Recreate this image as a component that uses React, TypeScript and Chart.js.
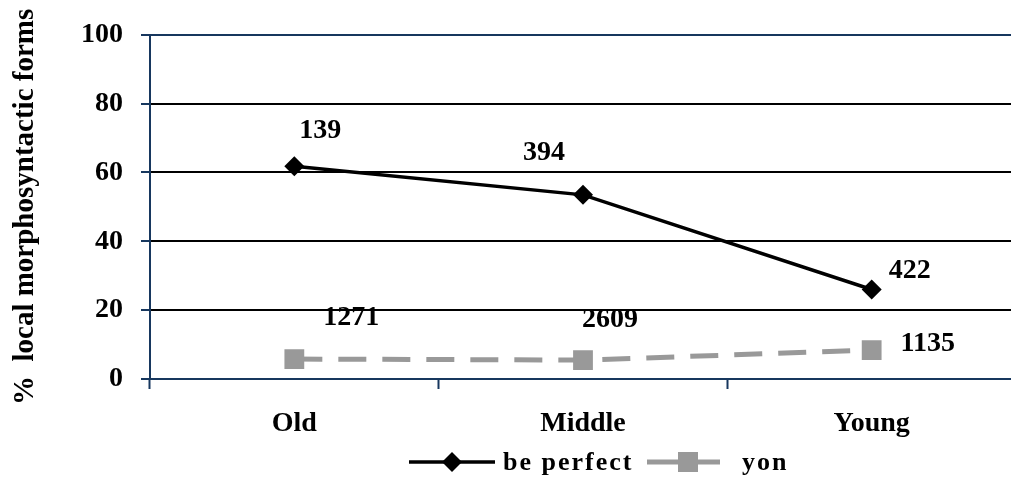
import React, { useEffect, useRef } from 'react';
import { Chart, registerables } from 'chart.js';

Chart.register(...registerables);

const categories = ['Old', 'Middle', 'Young'];
const bePerfectValues = [61.8, 53.5, 26.0];
const yonValues = [5.8, 5.5, 8.4];
const bePerfectCounts = ['139', '394', '422'];
const yonCounts = ['1271', '2609', '1135'];
const yTicks = [0, 20, 40, 60, 80, 100];
const seriesNames = ['be perfect', 'yon'];
const yTitle = '%  local morphosyntactic forms';

const NAVY = '#17375E';
const GRAY = '#999999';
const FONT = "'Liberation Serif', 'Times New Roman', serif";

const countLabels = {
  id: 'countLabels',
  afterDatasetsDraw(chart: any, _args: any, opts: any) {
    const ctx = chart.ctx;
    ctx.save();
    ctx.font = `bold 28px ${FONT}`;
    ctx.fillStyle = '#000';
    ctx.textAlign = 'center';
    ctx.textBaseline = 'middle';
    (opts.sets || []).forEach((set: any, di: number) => {
      const meta = chart.getDatasetMeta(di);
      meta.data.forEach((pt: any, i: number) => {
        const off = set.offsets[i];
        ctx.fillText(set.labels[i], pt.x + off[0], pt.y + off[1]);
      });
    });
    ctx.restore();
  },
};

const customLegend = {
  id: 'customLegend',
  afterDraw(chart: any, _args: any, opts: any) {
    const ctx = chart.ctx;
    const y = opts.y;
    const ds = chart.data.datasets;
    ctx.save();
    ctx.strokeStyle = ds[0].borderColor;
    ctx.lineWidth = ds[0].borderWidth;
    ctx.beginPath();
    ctx.moveTo(opts.x1, y);
    ctx.lineTo(opts.x1 + 86, y);
    ctx.stroke();
    const cx1 = opts.x1 + 43;
    ctx.fillStyle = ds[0].pointBackgroundColor;
    ctx.beginPath();
    ctx.moveTo(cx1, y - 10);
    ctx.lineTo(cx1 + 10, y);
    ctx.lineTo(cx1, y + 10);
    ctx.lineTo(cx1 - 10, y);
    ctx.closePath();
    ctx.fill();
    ctx.strokeStyle = ds[1].borderColor;
    ctx.lineWidth = ds[1].borderWidth;
    ctx.beginPath();
    ctx.moveTo(opts.x2, y);
    ctx.lineTo(opts.x2 + 73, y);
    ctx.stroke();
    const cx2 = opts.x2 + 41;
    ctx.fillStyle = ds[1].pointBackgroundColor;
    ctx.fillRect(cx2 - 10, y - 10, 20, 20);
    ctx.fillStyle = '#000';
    ctx.font = `bold 26px ${FONT}`;
    (ctx as any).letterSpacing = '2px';
    ctx.textAlign = 'left';
    ctx.textBaseline = 'middle';
    ctx.fillText(ds[0].label, opts.t1, y + 1);
    ctx.fillText(ds[1].label, opts.t2, y + 1);
    ctx.restore();
  },
};

export default function App() {
  const ref = useRef<HTMLCanvasElement | null>(null);

  useEffect(() => {
    document.body.style.margin = '0';
    document.body.style.overflow = 'hidden';
    const canvas = ref.current;
    if (!canvas) return;
    const chart = new Chart(canvas, {
      type: 'line',
      data: {
        labels: categories,
        datasets: [
          {
            label: seriesNames[0],
            data: bePerfectValues,
            borderColor: '#000000',
            borderWidth: 3.5,
            pointStyle: 'rectRot',
            pointRadius: 10,
            pointBackgroundColor: '#000000',
            pointBorderWidth: 0,
            tension: 0,
          },
          {
            label: seriesNames[1],
            data: yonValues,
            borderColor: GRAY,
            borderWidth: 5,
            borderDash: [28, 16],
            pointStyle: 'rect',
            pointRadius: 14,
            pointBackgroundColor: GRAY,
            pointBorderWidth: 0,
            tension: 0,
          },
        ],
      },
      options: {
        responsive: false,
        animation: false,
        layout: { padding: { top: 33, right: 8, bottom: 0, left: 0 } },
        plugins: {
          legend: { display: false },
          tooltip: { enabled: false },
          countLabels: {
            sets: [
              { labels: bePerfectCounts, offsets: [[26, -36], [-39, -42], [38, -19]] },
              { labels: yonCounts, offsets: [[57, -41], [27, -40], [56, -6]] },
            ],
          },
          customLegend: { y: 462, x1: 409, t1: 503, x2: 647, t2: 742 },
        } as any,
        scales: {
          x: {
            offset: true,
            grid: {
              drawOnChartArea: false,
              offset: true,
              tickLength: 10,
              tickColor: NAVY,
              tickWidth: 2,
            },
            border: { color: NAVY, width: 2 },
            ticks: {
              color: '#000',
              padding: 18,
              font: { family: FONT, size: 28, weight: 'bold' },
            },
            afterFit: (s: any) => {
              s.height = 104;
            },
          },
          y: {
            min: 0,
            max: 100,
            afterBuildTicks: (s: any) => {
              s.ticks = yTicks.map((v) => ({ value: v }));
            },
            grid: {
              color: (c: any) =>
                c.tick && (c.tick.value === 0 || c.tick.value === 100) ? NAVY : '#000000',
              lineWidth: 2,
              tickLength: 9,
              tickColor: NAVY,
              tickWidth: 2,
            },
            border: { color: NAVY, width: 2 },
            ticks: {
              color: '#000',
              padding: 18,
              font: { family: FONT, size: 28, weight: 'bold' },
            },
            title: {
              display: true,
              text: yTitle,
              color: '#000',
              padding: { top: 8, bottom: 0 },
              font: { family: FONT, size: 29, weight: 'bold' },
            },
            afterFit: (s: any) => {
              s.width = 150;
            },
          },
        },
      },
      plugins: [countLabels, customLegend],
    });
    return () => chart.destroy();
  }, []);

  return (
    <div style={{ position: 'absolute', left: 0, top: 0, width: 1011, height: 483, overflow: 'hidden', background: '#fff' }}>
      <canvas ref={ref} width={1030} height={483} style={{ display: 'block' }} />
    </div>
  );
}
